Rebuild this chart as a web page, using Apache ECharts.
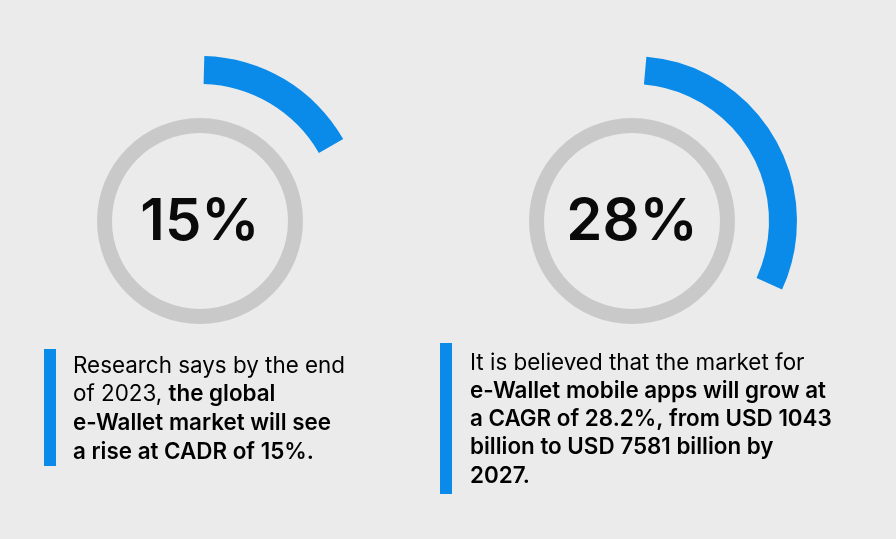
<!DOCTYPE html>
<html>
<head>
<meta charset="utf-8">
<script src="https://cdn.jsdelivr.net/npm/echarts@6/dist/echarts.min.js"></script>
<style>
    html, body { margin: 0; padding: 0; background: #ebebeb; }
    #chart { width: 896px; height: 539px; }
</style>
</head>
<body>
<div id="chart"></div>
<script>
    const stats = ["e-Wallet market (2023)", "e-Wallet apps CAGR"];
    const percentValues = [15, 28];
    const arcStart = [88.5, 85];
    const centers = [[200, 221], [632, 221]];

    const captionLeft = [
        ["n", "Research says by the end"],
        ["n", "of 2023, ", "b", "the global"],
        ["b", "e-Wallet market will see"],
        ["b", "a rise at CADR of 15%."]
    ];
    const captionRight = [
        ["n", "It is believed that the market for"],
        ["b", "e-Wallet mobile apps will grow at"],
        ["b", "a CAGR of 28.2%, from USD 1043"],
        ["b", "billion to USD 7581 billion by"],
        ["b", "2027."]
    ];

    const blue = "#0a8bea";
    const ringGray = "#c9c9c9";
    const textFont = "Inter, 'Noto Sans', sans-serif";

    const toRich = (lines) => lines
        .map((parts) => {
            let out = "";
            for (let i = 0; i < parts.length; i += 2) {
                out += `{${parts[i]}|${parts[i + 1]}}`;
            }
            return out;
        })
        .join("\n");

    const richStyles = (lineHeight) => ({
        n: { fontSize: 22.4, fontWeight: 400, color: "#505050", fontFamily: textFont, lineHeight },
        b: { fontSize: 22.4, fontWeight: 600, color: "#4d4d4d", fontFamily: textFont, lineHeight }
    });

    const hidden = {
        axisTick: { show: false },
        splitLine: { show: false },
        axisLabel: { show: false },
        pointer: { show: false },
        anchor: { show: false },
        title: { show: false }
    };

    const series = [];
    percentValues.forEach((value, index) => {
        // grey ring with the number in the middle
        series.push({
            type: "gauge",
            center: centers[index],
            radius: 103,
            startAngle: 90,
            endAngle: -270,
            min: 0,
            max: 100,
            axisLine: { lineStyle: { width: 15, color: [[1, ringGray]] } },
            ...hidden,
            detail: {
                offsetCenter: [0, 2],
                formatter: "{value}%",
                fontSize: 58,
                fontWeight: 600,
                fontFamily: textFont,
                color: "#0a0a0a"
            },
            data: [{ value, name: stats[index] }]
        });
        // blue progress arc outside; full turn = 92 so the arc is a bit longer than a plain percentage
        series.push({
            type: "gauge",
            center: centers[index],
            radius: 165,
            startAngle: arcStart[index],
            endAngle: arcStart[index] - 360,
            min: 0,
            max: 92,
            axisLine: { show: false },
            progress: { show: true, width: 28, roundCap: false, itemStyle: { color: blue } },
            ...hidden,
            detail: { show: false },
            data: [{ value, name: stats[index] }]
        });
    });

    const chart = echarts.init(document.getElementById("chart"), null, { renderer: "canvas" });
    chart.setOption({
        backgroundColor: "#ebebeb",
        animation: false,
        series,
        graphic: [
            { type: "rect", left: 44, top: 349, shape: { width: 12, height: 117 }, style: { fill: blue } },
            { type: "rect", left: 440, top: 343, shape: { width: 12, height: 151 }, style: { fill: blue } },
            {
                type: "text",
                left: 73,
                top: 355,
                style: { text: toRich(captionLeft), rich: richStyles(28.7) }
            },
            {
                type: "text",
                left: 470,
                top: 352,
                style: { text: toRich(captionRight), rich: richStyles(28.2) }
            }
        ]
    });
</script>
</body>
</html>
